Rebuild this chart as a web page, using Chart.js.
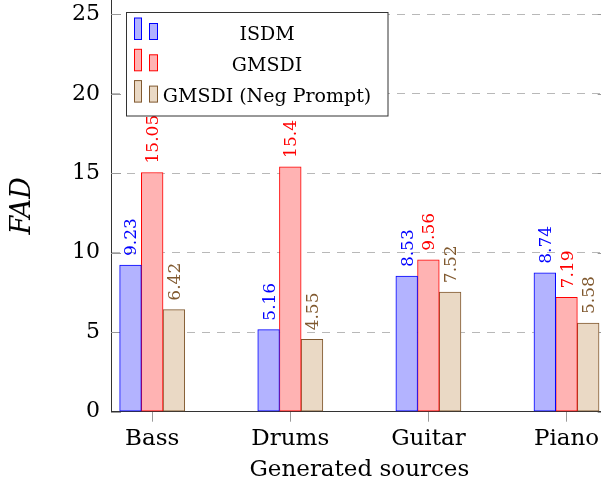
<!DOCTYPE html>
<html>
<head>
<meta charset="utf-8">
<script src="https://cdn.jsdelivr.net/npm/chart.js@4.4.0/dist/chart.umd.min.js"></script>
<style>
  html, body { margin: 0; padding: 0; overflow: hidden; background: #fff; }
  canvas { display: block; }
</style>
</head>
<body>
<canvas id="chart" width="620" height="488"></canvas>
<script>
// data
const categories = ['Bass', 'Drums', 'Guitar', 'Piano'];
const seriesNames = ['ISDM', 'GMSDI', 'GMSDI (Neg Prompt)'];
const isdm = [9.23, 5.16, 8.53, 8.74];
const gmsdi = [15.05, 15.4, 9.56, 7.19];
const gmsdiNeg = [6.42, 4.55, 7.52, 5.58];
const yTicks = [0, 5, 10, 15, 20, 25];

const fills = ['#b3b3ff', '#ffb3b3', '#ead9c5'];
const borders = ['#0000ff', '#ff0000', '#80592f'];
const serif = "'DejaVu Serif', serif";

// rotated numbers above each bar
const valueLabels = {
  id: 'valueLabels',
  afterDatasetsDraw(chart) {
    const ctx = chart.ctx;
    chart.data.datasets.forEach((ds, di) => {
      chart.getDatasetMeta(di).data.forEach((bar, i) => {
        ctx.save();
        ctx.translate(bar.x, bar.y - 9);
        ctx.rotate(-Math.PI / 2);
        ctx.font = '17px ' + serif;
        ctx.fillStyle = borders[di];
        ctx.textAlign = 'left';
        ctx.textBaseline = 'alphabetic';
        ctx.fillText(String(ds.data[i].y), 0, 6);
        ctx.restore();
      });
    });
  }
};

// pgfplots-like inward y ticks on both sides
const innerTicks = {
  id: 'innerTicks',
  beforeDatasetsDraw(chart) {
    const ctx = chart.ctx;
    const y = chart.scales.y;
    const area = chart.chartArea;
    ctx.save();
    ctx.strokeStyle = '#999';
    ctx.lineWidth = 1;
    yTicks.forEach(v => {
      const py = Math.round(y.getPixelForValue(v)) + 0.5;
      ctx.beginPath();
      ctx.moveTo(area.left, py);
      ctx.lineTo(area.left + 10, py);
      ctx.moveTo(area.right - 10, py);
      ctx.lineTo(area.right, py);
      ctx.stroke();
    });
    ctx.restore();
  }
};

// boxed legend with two small bars per entry
const boxLegend = {
  id: 'boxLegend',
  afterDraw(chart) {
    const ctx = chart.ctx;
    ctx.save();
    ctx.fillStyle = '#fff';
    ctx.strokeStyle = '#333';
    ctx.lineWidth = 1;
    ctx.fillRect(126.5, 12.5, 261.5, 103.5);
    ctx.strokeRect(126.5, 12.5, 261.5, 103.5);
    chart.data.datasets.forEach((ds, i) => {
      const base = 39.5 + 31.3 * i;
      ctx.fillStyle = ds.backgroundColor;
      ctx.strokeStyle = ds.borderColor;
      ctx.fillRect(134.5, base - 21.5, 7, 21.5);
      ctx.strokeRect(134.5, base - 21.5, 7, 21.5);
      ctx.fillRect(149.5, base - 16, 8, 16);
      ctx.strokeRect(149.5, base - 16, 8, 16);
      ctx.fillStyle = '#000';
      ctx.font = '19px ' + serif;
      ctx.textAlign = 'center';
      ctx.textBaseline = 'alphabetic';
      ctx.fillText(ds.label, 267, base);
    });
    ctx.restore();
  }
};

const series = [isdm, gmsdi, gmsdiNeg];

new Chart(document.getElementById('chart'), {
  type: 'bar',
  data: {
    datasets: series.map((values, s) => ({
      label: seriesNames[s],
      data: values.map((v, i) => ({ x: i, y: v })),
      backgroundColor: fills[s],
      borderColor: borders[s],
      borderWidth: 1,
      borderSkipped: false,
      barThickness: 21.7
    }))
  },
  options: {
    responsive: false,
    animation: false,
    layout: { padding: { left: 0, right: 12.3, top: 0, bottom: 0 } },
    plugins: {
      legend: { display: false },
      tooltip: { enabled: false }
    },
    scales: {
      x: {
        type: 'linear',
        offset: false,
        min: -0.2983,
        max: 3.2983,
        afterBuildTicks: s => { s.ticks = categories.map((c, i) => ({ value: i })); },
        afterFit: s => { s.height = 488 - 411.7; s.paddingLeft = 0; s.paddingRight = 0; },
        ticks: {
          callback: v => categories[v],
          font: { family: serif, size: 23 },
          color: '#000',
          padding: 4,
          maxRotation: 0,
          autoSkip: false
        },
        grid: { offset: false, drawOnChartArea: false, drawTicks: true, tickLength: 10, tickColor: '#999', tickWidth: 1 },
        border: { color: '#333', width: 1 },
        title: {
          display: true,
          text: 'Generated sources',
          font: { family: serif, size: 23 },
          color: '#000',
          padding: { top: 0, bottom: 4 }
        }
      },
      y: {
        min: 0,
        max: 25.9,
        afterBuildTicks: s => { s.ticks = yTicks.map(v => ({ value: v })); },
        afterFit: s => { s.width = 111; s.paddingTop = 0; s.paddingBottom = 0; },
        ticks: {
          font: { family: serif, size: 22 },
          color: '#000',
          padding: 11
        },
        grid: { color: '#b8b8b8', drawTicks: false, lineWidth: 1 },
        border: { color: '#333', width: 1, dash: [8, 7] },
        title: {
          display: true,
          text: 'FAD',
          font: { family: serif, size: 27, style: 'italic' },
          color: '#000',
          padding: { top: 7, bottom: 0 }
        }
      }
    }
  },
  plugins: [innerTicks, valueLabels, boxLegend]
});
</script>
</body>
</html>
